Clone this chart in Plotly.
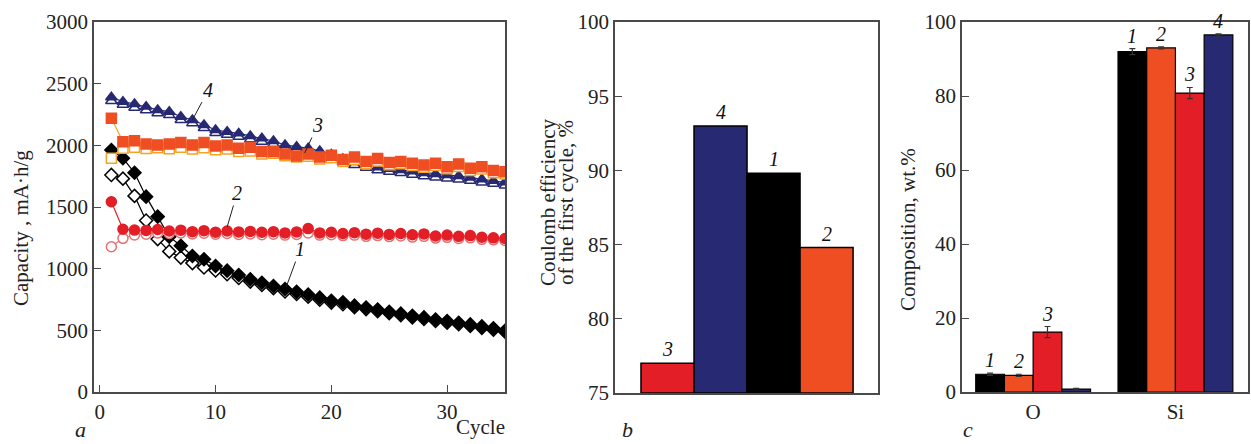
import plotly.graph_objects as go

# ---------------- data ----------------
cycles = list(range(1, 36))

s1_charge = [1962, 1895, 1778, 1584, 1422, 1259, 1186, 1103, 1076, 1022, 984, 949, 914, 886, 859,
             835, 812, 790, 765, 740, 728, 700, 685, 668, 650, 635, 618, 605, 588, 575, 562, 548, 532, 516, 497]
s1_disch = [1760, 1730, 1590, 1390, 1240, 1140, 1090, 1045, 1010, 985, 955, 925, 895, 868, 842,
            815, 795, 772, 748, 725, 712, 688, 672, 655, 638, 622, 605, 592, 576, 562, 550, 536, 520, 505, 488]
s2_charge = [1543, 1320, 1313, 1310, 1318, 1305, 1312, 1300, 1308, 1296, 1305, 1298, 1302, 1295, 1300,
             1290, 1298, 1325, 1290, 1295, 1285, 1292, 1280, 1288, 1278, 1285, 1275, 1282, 1265, 1272, 1262, 1268, 1255, 1250, 1245]
s2_disch = [1178, 1246, 1273, 1280, 1290, 1285, 1290, 1282, 1288, 1280, 1285, 1278, 1282, 1276, 1280,
            1272, 1278, 1290, 1272, 1276, 1268, 1272, 1262, 1268, 1260, 1265, 1256, 1262, 1248, 1254, 1245, 1250, 1238, 1234, 1228]
s3_charge = [2220, 2030, 2038, 2011, 2003, 2011, 2022, 2003, 2022, 1995, 2003, 1976, 1984, 1949, 1949,
             1930, 1914, 1930, 1905, 1920, 1885, 1905, 1868, 1894, 1860, 1868, 1854, 1840, 1854, 1827, 1849, 1814, 1827, 1795, 1785]
s3_disch = [1895, 1976, 1985, 1975, 1980, 1972, 1985, 1970, 1980, 1965, 1970, 1950, 1955, 1930, 1935,
            1915, 1905, 1912, 1890, 1900, 1868, 1885, 1850, 1872, 1842, 1850, 1836, 1822, 1836, 1810, 1828, 1795, 1808, 1778, 1768]
s4_charge = [2390, 2354, 2335, 2314, 2287, 2273, 2232, 2206, 2165, 2124, 2110, 2097, 2076, 2057, 2035,
             2003, 1989, 1976, 1955, 1925, 1890, 1865, 1842, 1822, 1810, 1800, 1790, 1776, 1768, 1760, 1752, 1740, 1725, 1712, 1700]
s4_disch = [2360, 2330, 2305, 2285, 2260, 2245, 2205, 2180, 2140, 2100, 2085, 2070, 2050, 2030, 2010,
            1978, 1965, 1950, 1930, 1900, 1865, 1840, 1818, 1798, 1785, 1775, 1762, 1750, 1740, 1732, 1722, 1712, 1698, 1688, 1675]

# panel b
eff_pos = [0, 1, 2, 3]
eff_labels = ["3", "4", "1", "2"]
eff_values = [77.0, 93.0, 89.8, 84.8]

# panel c
elements = ["O", "Si"]
comp_labels = ["1", "2", "3", "4"]
comp_values = {
    "1": [4.8, 92.0],
    "2": [4.5, 93.0],
    "3": [16.2, 80.8],
    "4": [0.8, 96.5],
}
comp_err = {
    "1": [0.3, 0.8],
    "2": [0.3, 0.3],
    "3": [1.5, 1.5],
    "4": [0.2, 0.3],
}

# ---------------- styles ----------------
FONT = "Liberation Serif"
BLACK = "#000000"
NAVY = "#272A72"
ORANGE = "#EF4E23"
ORANGE_LIGHT = "#F6A324"
RED = "#E31E26"
RED_LIGHT = "#E77070"
AX = "#4a4a4a"

bar_colors = {"1": BLACK, "2": ORANGE, "3": RED, "4": NAVY}

W, H = 1251, 444


def px_x(x):
    return x / W


def px_y(y):
    return 1 - y / H


fig = go.Figure()

# ---- panel a ----
def add_series(y, color, symbol, fill, lcolor=None):
    fig.add_trace(go.Scatter(
        x=cycles, y=y, mode="lines+markers", xaxis="x", yaxis="y",
        line=dict(color=lcolor or color, width=1.2),
        marker=dict(symbol=symbol, size=10,
                    color=color if fill else "white",
                    line=dict(color=color, width=1.5)),
        showlegend=False, cliponaxis=True))

add_series(s1_disch, BLACK, "diamond", False)
add_series(s1_charge, BLACK, "diamond", True)
add_series(s2_disch, RED_LIGHT, "circle", False)
add_series(s2_charge, RED, "circle", True)
add_series(s4_disch, NAVY, "triangle-up", False)
add_series(s4_charge, NAVY, "triangle-up", True)
add_series(s3_disch, ORANGE_LIGHT, "square", False)
add_series(s3_charge, ORANGE, "square", True, lcolor=ORANGE_LIGHT)

# ---- panel b ----
fig.add_trace(go.Bar(
    x=eff_pos, y=[v - 75 for v in eff_values], base=75, width=[1] * 4,
    xaxis="x2", yaxis="y2",
    marker=dict(color=[bar_colors[l] for l in eff_labels], line=dict(color=BLACK, width=1.5)),
    showlegend=False))

# ---- panel c ----
for lab in comp_labels:
    fig.add_trace(go.Bar(
        x=elements, y=comp_values[lab], name=lab, xaxis="x3", yaxis="y3",
        marker=dict(color=bar_colors[lab], line=dict(color=BLACK, width=1.2)),
        error_y=dict(type="data", array=comp_err[lab], color="#333333", thickness=1.2, width=3),
        showlegend=False))

# ---------------- axes ----------------
tickfont = dict(family=FONT, size=21, color="#222222")
common = dict(showline=True, linecolor=AX, linewidth=1.5, mirror=True, ticks="inside",
              ticklen=7, tickcolor=AX, showgrid=False, zeroline=False, tickfont=tickfont,
              automargin=False)
noticks = {k: v for k, v in common.items() if k != "ticks"}

dom_y = [px_y(392), px_y(22)]

layout = dict(
    width=W, height=H, margin=dict(l=0, r=0, t=0, b=0, pad=0, autoexpand=False),
    autosize=False,
    paper_bgcolor="white", plot_bgcolor="white",
    barmode="group", bargap=0.193, bargroupgap=0,
    xaxis=dict(domain=[px_x(94), px_x(505)], range=[-0.5, 35], tickvals=[0, 10, 20, 30],
               anchor="y", **common),
    yaxis=dict(domain=dom_y, range=[0, 3000], dtick=500, anchor="x", **common),
    xaxis2=dict(domain=[px_x(615), px_x(878)], range=[-0.99, 3.97], showticklabels=False,
                anchor="y2", ticks="", **noticks),
    yaxis2=dict(domain=[px_y(393), px_y(22)], range=[75, 100], dtick=5, anchor="x2", **common),
    xaxis3=dict(domain=[px_x(962), px_x(1248)], range=[-0.5, 1.51], type="category",
                anchor="y3", ticks="", **noticks),
    yaxis3=dict(domain=dom_y, range=[0, 100], dtick=20, anchor="x3", **common),
)
fig.update_layout(**layout)

# ---------------- annotations ----------------
ann = []
lab_font = dict(family=FONT, size=20, color="#111111")
title_font = dict(family=FONT, size=21, color="#222222")

# curve labels in panel a (leader lines)
curve_labels = [("4", 8, 2206, 16, -30), ("3", 17.7, 1938, 13, -28),
                ("2", 11, 1338, 10, -34), ("1", 16.1, 851, 14, -38)]
for t, cx, cy, dx, dy in curve_labels:
    ann.append(dict(x=cx, y=cy, xref="x", yref="y", text=f"<i>{t}</i>", showarrow=True,
                    arrowhead=0, arrowwidth=1, arrowcolor="#222222", ax=dx, ay=dy,
                    font=lab_font, standoff=0))

# bar labels panel b
for p, l, v in zip(eff_pos, eff_labels, eff_values):
    ann.append(dict(x=p, y=v, xref="x2", yref="y2", text=f"<i>{l}</i>", showarrow=False,
                    yanchor="bottom", yshift=1, font=lab_font))

# bar labels panel c
ngroups = len(comp_labels)
bw = (1 - 0.193) / ngroups
for i, lab in enumerate(comp_labels):
    for j, el in enumerate(elements):
        off = (i - (ngroups - 1) / 2) * bw
        v = comp_values[lab][j]
        if el == "O" and lab == "4":
            continue
        ann.append(dict(x=j + off, y=v + comp_err[lab][j], xref="x3", yref="y3",
                        text=f"<i>{lab}</i>", showarrow=False, yanchor="bottom", yshift=0,
                        font=lab_font))

# axis titles
ann.append(dict(x=px_x(21), y=px_y(228), xref="paper", yref="paper", text="Capacity , mA·h/g",
                textangle=-90, showarrow=False, font=title_font, xanchor="center", yanchor="middle"))
ann.append(dict(x=px_x(480), y=px_y(427), xref="paper", yref="paper", text="Cycle",
                showarrow=False, font=title_font, xanchor="center", yanchor="middle"))
ann.append(dict(x=px_x(548), y=px_y(203), xref="paper", yref="paper", text="Coulomb efficiency",
                textangle=-90, showarrow=False, font=title_font, xanchor="center", yanchor="middle"))
ann.append(dict(x=px_x(566), y=px_y(203), xref="paper", yref="paper", text="of the first cycle, %",
                textangle=-90, showarrow=False, font=title_font, xanchor="center", yanchor="middle"))
ann.append(dict(x=px_x(908), y=px_y(230), xref="paper", yref="paper", text="Composition, wt.%",
                textangle=-90, showarrow=False, font=title_font, xanchor="center", yanchor="middle"))

# panel letters
for t, x, y in [("a", 80, 429), ("b", 628, 429), ("c", 968, 429)]:
    ann.append(dict(x=px_x(x), y=px_y(y), xref="paper", yref="paper", text=f"<i>{t}</i>",
                    showarrow=False, font=dict(family=FONT, size=22, color="#222222"),
                    xanchor="center", yanchor="middle"))

fig.update_layout(annotations=ann)

fig.write_html(
    "out.html",
    config={"displayModeBar": False},
    post_script="document.body.style.margin='0';document.body.style.overflow='hidden';",
)
